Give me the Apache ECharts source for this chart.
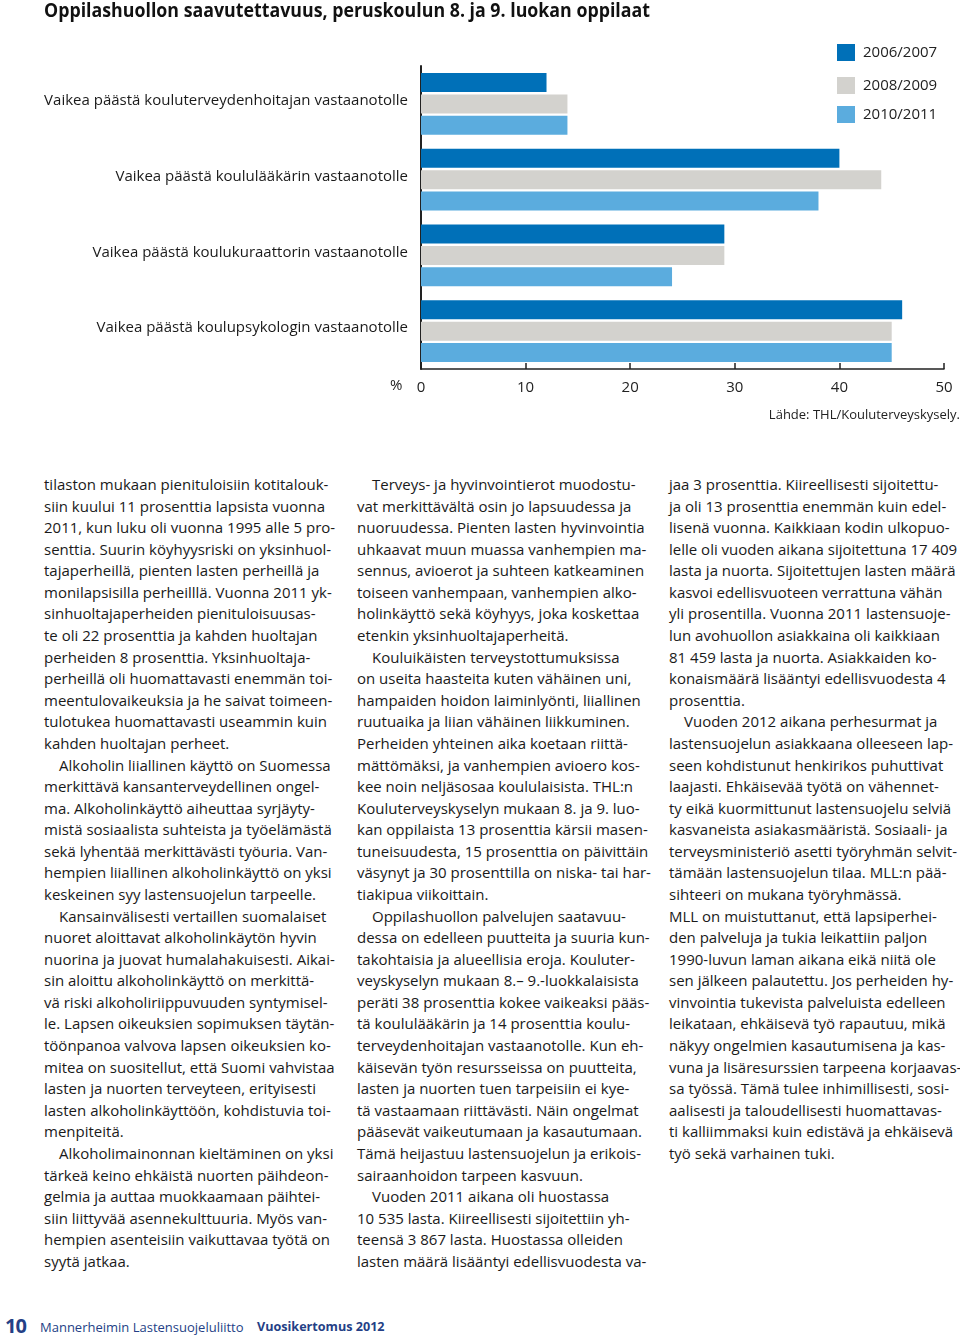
<!DOCTYPE html>
<html>
<head>
<meta charset="utf-8">
<script src="https://cdn.jsdelivr.net/npm/echarts@6/dist/echarts.min.js"></script>
<style>
  html, body { margin: 0; padding: 0; background: #fff; }
  #page { position: relative; width: 960px; height: 1336px; overflow: hidden; font-family: "Open Sans", sans-serif; color: #1a1a1a; }
  #chart { position: absolute; left: 0; top: 0; width: 960px; height: 440px; }
  #title { position: absolute; left: 44px; top: 0px; font-weight: 700; font-size: 20px; line-height: 20px; white-space: nowrap; color: #111; transform-origin: 0 0; }
  .col { position: absolute; top: 474px; font-size: 15px; line-height: 21.58px; white-space: pre; color: #1a1a1a; }
  .col div.ind { padding-left: 15px; }
  #foot { position: absolute; left: 5px; top: 1312px; white-space: nowrap; color: #243f86; }
  #foot .num { font-weight: 700; font-size: 20px; letter-spacing: -1px; position: absolute; left: 0; top: 0; line-height: 28px; }
  #foot .org { font-size: 13px; position: absolute; left: 35px; top: 6px; line-height: 18px; }
  #foot .rep { font-size: 12.6px; font-weight: 700; position: absolute; left: 252px; top: 6px; line-height: 18px; }
</style>
</head>
<body>
<div id="page">
  <div id="chart"></div>
  <div id="title">Oppilashuollon saavutettavuus, peruskoulun 8. ja 9. luokan oppilaat</div>
  <div id="col1" class="col" style="left:44px"></div>
  <div id="col2" class="col" style="left:357px"></div>
  <div id="col3" class="col" style="left:669px"></div>
  <div id="foot"><span class="num">10</span><span class="org">Mannerheimin Lastensuojeluliitto</span><span class="rep">Vuosikertomus 2012</span></div>
</div>
<script>
// ---- chart data ----
const categories = [
  'Vaikea päästä kouluterveydenhoitajan vastaanotolle',
  'Vaikea päästä koululääkärin vastaanotolle',
  'Vaikea päästä koulukuraattorin vastaanotolle',
  'Vaikea päästä koulupsykologin vastaanotolle'
];
const years = ['2006/2007', '2008/2009', '2010/2011'];
const values2006 = [12, 40, 29, 46];
const values2008 = [14, 44, 29, 45];
const values2010 = [14, 38, 24, 45];
const xMin = 0, xMax = 50, xStep = 10;
const sourceText = 'Lähde: THL/Kouluterveyskysely.';

// ---- body text (line by line, "\t" = indented paragraph start) ----
const col1Lines = [
  'tilaston mukaan pienituloisiin kotitalouk-',
  'siin kuului 11 prosenttia lapsista vuonna',
  '2011, kun luku oli vuonna 1995 alle 5 pro-',
  'senttia. Suurin köyhyysriski on yksinhuol-',
  'tajaperheillä, pienten lasten perheillä ja',
  'monilapsisilla perheilllä. Vuonna 2011 yk-',
  'sinhuoltajaperheiden pienituloisuusas-',
  'te oli 22 prosenttia ja kahden huoltajan',
  'perheiden 8 prosenttia. Yksinhuoltaja-',
  'perheillä oli huomattavasti enemmän toi-',
  'meentulovaikeuksia ja he saivat toimeen-',
  'tulotukea huomattavasti useammin kuin',
  'kahden huoltajan perheet.',
  '\tAlkoholin liiallinen käyttö on Suomessa',
  'merkittävä kansanterveydellinen ongel-',
  'ma. Alkoholinkäyttö aiheuttaa syrjäyty-',
  'mistä sosiaalista suhteista ja työelämästä',
  'sekä lyhentää merkittävästi työuria. Van-',
  'hempien liiallinen alkoholinkäyttö on yksi',
  'keskeinen syy lastensuojelun tarpeelle.',
  '\tKansainvälisesti vertaillen suomalaiset',
  'nuoret aloittavat alkoholinkäytön hyvin',
  'nuorina ja juovat humalahakuisesti. Aikai-',
  'sin aloittu alkoholinkäyttö on merkittä-',
  'vä riski alkoholiriippuvuuden syntymisel-',
  'le. Lapsen oikeuksien sopimuksen täytän-',
  'töönpanoa valvova lapsen oikeuksien ko-',
  'mitea on suositellut, että Suomi vahvistaa',
  'lasten ja nuorten terveyteen, erityisesti',
  'lasten alkoholinkäyttöön, kohdistuvia toi-',
  'menpiteitä.',
  '\tAlkoholimainonnan kieltäminen on yksi',
  'tärkeä keino ehkäistä nuorten päihdeon-',
  'gelmia ja auttaa muokkaamaan päihtei-',
  'siin liittyvää asennekulttuuria. Myös van-',
  'hempien asenteisiin vaikuttavaa työtä on',
  'syytä jatkaa.'
];
const col2Lines = [
  '\tTerveys- ja hyvinvointierot muodostu-',
  'vat merkittävältä osin jo lapsuudessa ja',
  'nuoruudessa. Pienten lasten hyvinvointia',
  'uhkaavat muun muassa vanhempien ma-',
  'sennus, avioerot ja suhteen katkeaminen',
  'toiseen vanhempaan, vanhempien alko-',
  'holinkäyttö sekä köyhyys, joka koskettaa',
  'etenkin yksinhuoltajaperheitä.',
  '\tKouluikäisten terveystottumuksissa',
  'on useita haasteita kuten vähäinen uni,',
  'hampaiden hoidon laiminlyönti, liiallinen',
  'ruutuaika ja liian vähäinen liikkuminen.',
  'Perheiden yhteinen aika koetaan riittä-',
  'mättömäksi, ja vanhempien avioero kos-',
  'kee noin neljäsosaa koululaisista. THL:n',
  'Kouluterveyskyselyn mukaan 8. ja 9. luo-',
  'kan oppilaista 13 prosenttia kärsii masen-',
  'tuneisuudesta, 15 prosenttia on päivittäin',
  'väsynyt ja 30 prosenttilla on niska- tai har-',
  'tiakipua viikoittain.',
  '\tOppilashuollon palvelujen saatavuu-',
  'dessa on edelleen puutteita ja suuria kun-',
  'takohtaisia ja alueellisia eroja. Kouluter-',
  'veyskyselyn mukaan 8.– 9.-luokkalaisista',
  'peräti 38 prosenttia kokee vaikeaksi pääs-',
  'tä koululääkärin ja 14 prosenttia koulu-',
  'terveydenhoitajan vastaanotolle. Kun eh-',
  'käisevän työn resursseissa on puutteita,',
  'lasten ja nuorten tuen tarpeisiin ei kye-',
  'tä vastaamaan riittävästi. Näin ongelmat',
  'pääsevät vaikeutumaan ja kasautumaan.',
  'Tämä heijastuu lastensuojelun ja erikois-',
  'sairaanhoidon tarpeen kasvuun.',
  '\tVuoden 2011 aikana oli huostassa',
  '10 535 lasta. Kiireellisesti sijoitettiin yh-',
  'teensä 3 867 lasta. Huostassa olleiden',
  'lasten määrä lisääntyi edellisvuodesta va-'
];
const col3Lines = [
  'jaa 3 prosenttia. Kiireellisesti sijoitettu-',
  'ja oli 13 prosenttia enemmän kuin edel-',
  'lisenä vuonna. Kaikkiaan kodin ulkopuo-',
  'lelle oli vuoden aikana sijoitettuna 17 409',
  'lasta ja nuorta. Sijoitettujen lasten määrä',
  'kasvoi edellisvuoteen verrattuna vähän',
  'yli prosentilla. Vuonna 2011 lastensuoje-',
  'lun avohuollon asiakkaina oli kaikkiaan',
  '81 459 lasta ja nuorta. Asiakkaiden ko-',
  'konaismäärä lisääntyi edellisvuodesta 4',
  'prosenttia.',
  '\tVuoden 2012 aikana perhesurmat ja',
  'lastensuojelun asiakkaana olleeseen lap-',
  'seen kohdistunut henkirikos puhuttivat',
  'laajasti. Ehkäisevää työtä on vähennet-',
  'ty eikä kuormittunut lastensuojelu selviä',
  'kasvaneista asiakasmääristä. Sosiaali- ja',
  'terveysministeriö asetti työryhmän selvit-',
  'tämään lastensuojelun tilaa. MLL:n pää-',
  'sihteeri on mukana työryhmässä.',
  'MLL on muistuttanut, että lapsiperhei-',
  'den palveluja ja tukia leikattiin paljon',
  '1990-luvun laman aikana eikä niitä ole',
  'sen jälkeen palautettu. Jos perheiden hy-',
  'vinvointia tukevista palveluista edelleen',
  'leikataan, ehkäisevä työ rapautuu, mikä',
  'näkyy ongelmien kasautumisena ja kas-',
  'vuna ja lisäresurssien tarpeena korjaavas-',
  'sa työssä. Tämä tulee inhimillisesti, sosi-',
  'aalisesti ja taloudellisesti huomattavas-',
  'ti kalliimmaksi kuin edistävä ja ehkäisevä',
  'työ sekä varhainen tuki.'
];

function fillCol(id, lines) {
  const el = document.getElementById(id);
  lines.forEach(function (ln) {
    const d = document.createElement('div');
    if (ln.charAt(0) === '\t') { d.className = 'ind'; d.textContent = ln.slice(1); }
    else d.textContent = ln;
    el.appendChild(d);
  });
}
fillCol('col1', col1Lines);
fillCol('col2', col2Lines);
fillCol('col3', col3Lines);

// fit title width to reference span
(function () {
  const t = document.getElementById('title');
  const w = t.getBoundingClientRect().width;
  const target = 606;
  if (w > 0) t.style.transform = 'scaleX(' + (target / w) + ')';
})();

// ---- chart ----
const colors = ['#0070b8', '#d3d2ce', '#5bacde'];
const seriesValues = [values2006, values2008, values2010];
const chart = echarts.init(document.getElementById('chart'), null, { renderer: 'canvas' });
const legendTops = [44, 77, 106];

const option = {
  animation: false,
  textStyle: { fontFamily: 'Open Sans' },
  grid: { left: 421, right: 16, top: 66, height: 303, containLabel: false },
  legend: years.map(function (y, i) {
    return {
      data: [y], left: 837, top: legendTops[i], orient: 'vertical', padding: 0,
      icon: 'rect', itemWidth: 18, itemHeight: 17,
      textStyle: { fontSize: 15, color: '#222', padding: [0, 0, 0, 3], fontFamily: 'Open Sans' },
      selectedMode: false
    };
  }),
  xAxis: {
    type: 'value', min: xMin, max: xMax, interval: xStep,
    axisLine: { show: true, lineStyle: { color: '#222', width: 1.5 } },
    axisTick: { show: true, inside: true, length: 6, lineStyle: { color: '#222', width: 1.5 } },
    splitLine: { show: false },
    axisLabel: { fontSize: 15, color: '#222', margin: 11, fontFamily: 'Open Sans' }
  },
  yAxis: {
    type: 'category', data: categories, inverse: true,
    axisLine: { show: true, lineStyle: { color: '#222', width: 2 } },
    axisTick: { show: false },
    axisLabel: {
      margin: 13,
      formatter: function (v) { return '{c|' + v + '}'; },
      rich: { c: { fontSize: 15, color: '#1a1a1a', fontFamily: 'Open Sans', padding: [0, 0, 6, 0] } }
    }
  },
  series: years.map(function (y, i) {
    return {
      name: y, type: 'bar', data: seriesValues[i],
      barWidth: 19, barGap: '12%',
      itemStyle: { color: colors[i] }
    };
  }),
  graphic: [
    { type: 'text', left: 390, top: 378, style: { text: '%', fontSize: 15, fill: '#222', fontFamily: 'Open Sans' } },
    { type: 'text', right: 0, top: 409, style: { text: sourceText, fontSize: 13, fill: '#222', fontFamily: 'Open Sans' } }
  ]
};
chart.setOption(option);
</script>
</body>
</html>
